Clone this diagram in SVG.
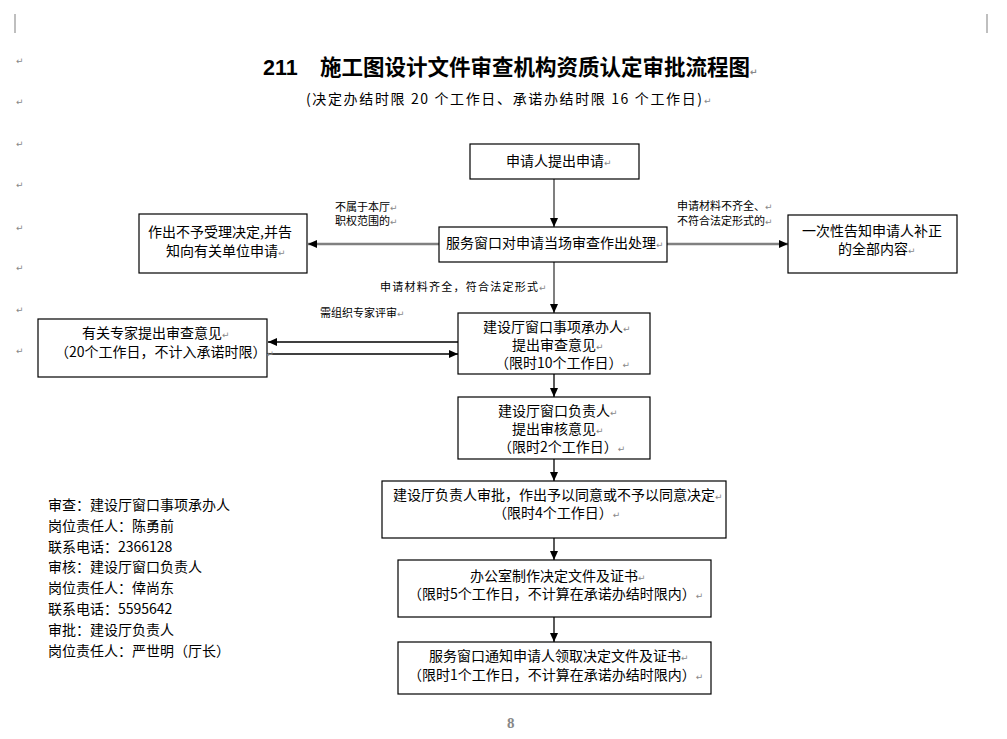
<svg xmlns="http://www.w3.org/2000/svg" width="1007" height="739" viewBox="0 0 1007 739">
<style>
.bx{fill:#fff;stroke:#000;stroke-width:1.2}
.t{font-family:"Noto Sans CJK SC","Noto Sans",sans-serif;font-size:14px;fill:#000}
.s{font-family:"Noto Sans CJK SC","Noto Sans",sans-serif;font-size:11px;fill:#000}
.m{font-family:"DejaVu Sans",sans-serif;font-size:9px;fill:#888}
.lk{stroke:#000;stroke-width:1.3;fill:none}
.lg{stroke:#808080;stroke-width:2.5;fill:none}
.ld{stroke:#555;stroke-width:1.5;fill:none}
.corner{stroke:#aaa;stroke-width:1.5}
</style>
<defs>
<marker id="ah" markerUnits="userSpaceOnUse" markerWidth="10" markerHeight="8" refX="9" refY="4" orient="auto">
<path d="M0,0 L9,4 L0,8 z" fill="#000"/>
</marker>
</defs>
<rect width="1007" height="739" fill="#fff"/>
<line class="corner" x1="15" y1="14" x2="15" y2="33"/>
<line class="corner" x1="987" y1="14" x2="987" y2="33"/>
<g id="margin-marks">
<text class="m" x="16" y="64">↵</text>
<text class="m" x="16" y="105">↵</text>
<text class="m" x="16" y="147">↵</text>
<text class="m" x="16" y="188">↵</text>
<text class="m" x="16" y="231">↵</text>
<text class="m" x="16" y="271">↵</text>
<text class="m" x="16" y="313">↵</text>
<text class="m" x="16" y="354">↵</text>
</g>
<g id="title">
<text x="263" y="75" style="font-family:'Liberation Sans','Noto Sans CJK SC',sans-serif;font-size:21.5px;font-weight:bold">211</text>
<text x="320" y="75" style="font-family:'Noto Sans CJK SC',sans-serif;font-size:21.5px;font-weight:bold">施工图设计文件审查机构资质认定审批流程图<tspan class="m">↵</tspan></text>
<text class="t" x="306" y="104" textLength="396" lengthAdjust="spacing">(决定办结时限 20 个工作日、承诺办结时限 16 个工作日)</text>
<text class="m" x="704" y="104">↵</text>
</g>
<g id="connectors">
<line class="ld" x1="554" y1="179" x2="554" y2="227" marker-end="url(#ah)"/>
<line class="lg" x1="439" y1="244" x2="308" y2="244" marker-end="url(#ah)"/>
<line class="lg" x1="667" y1="244" x2="788" y2="244" marker-end="url(#ah)"/>
<line class="ld" x1="554" y1="262" x2="554" y2="313" marker-end="url(#ah)"/>
<line class="lk" x1="458" y1="342" x2="268" y2="342" marker-end="url(#ah)"/>
<line class="lk" x1="267" y1="354" x2="458" y2="354" marker-end="url(#ah)"/>
<line class="lk" x1="554" y1="374" x2="554" y2="397" marker-end="url(#ah)"/>
<line class="lk" x1="554" y1="459" x2="554" y2="481" marker-end="url(#ah)"/>
<line class="lk" x1="554" y1="538" x2="554" y2="560" marker-end="url(#ah)"/>
<line class="lk" x1="554" y1="617" x2="554" y2="642" marker-end="url(#ah)"/>
<text class="s" x="335" y="211">不属于本厅<tspan class="m">↵</tspan></text>
<text class="s" x="335" y="225">职权范围的<tspan class="m">↵</tspan></text>
<text class="s" x="677" y="210">申请材料不齐全、<tspan class="m">↵</tspan></text>
<text class="s" x="677" y="225">不符合法定形式的<tspan class="m">↵</tspan></text>
<text class="s" x="380" y="291" textLength="158" lengthAdjust="spacing">申请材料齐全，符合法定形式</text>
<text class="m" x="539" y="291">↵</text>
<text class="s" x="320" y="317">需组织专家评审<tspan class="m">↵</tspan></text>
</g>
<g id="n1">
<rect class="bx" x="470" y="144" width="169" height="35"/>
<text class="t" x="506" y="166">申请人提出申请<tspan class="m">↵</tspan></text>
</g>
<g id="n2">
<rect class="bx" x="439" y="227" width="228" height="35"/>
<text class="t" x="446" y="248">服务窗口对申请当场审查作出处理<tspan class="m">↵</tspan></text>
</g>
<g id="n3">
<rect class="bx" x="139" y="214" width="168" height="59"/>
<text class="t" x="148" y="237">作出不予受理决定,并告</text>
<text class="t" x="166" y="256">知向有关单位申请<tspan class="m">↵</tspan></text>
</g>
<g id="n4">
<rect class="bx" x="788" y="215" width="169" height="58"/>
<text class="t" x="802" y="236">一次性告知申请人补正</text>
<text class="t" x="838" y="254">的全部内容<tspan class="m">↵</tspan></text>
</g>
<g id="n5">
<rect class="bx" x="38" y="319" width="229" height="58"/>
<text class="t" x="82" y="338">有关专家提出审查意见<tspan class="m">↵</tspan></text>
<text class="t" x="55" y="357">（20个工作日，不计入承诺时限）<tspan class="m">↵</tspan></text>
</g>
<g id="n6">
<rect class="bx" x="458" y="313" width="192" height="61"/>
<text class="t" x="483" y="332">建设厅窗口事项承办人<tspan class="m">↵</tspan></text>
<text class="t" x="512" y="350">提出审查意见<tspan class="m">↵</tspan></text>
<text class="t" x="495" y="368">（限时10个工作日）<tspan class="m">↵</tspan></text>
</g>
<g id="n7">
<rect class="bx" x="458" y="397" width="192" height="62"/>
<text class="t" x="498" y="416">建设厅窗口负责人<tspan class="m">↵</tspan></text>
<text class="t" x="512" y="434">提出审核意见<tspan class="m">↵</tspan></text>
<text class="t" x="498" y="452">（限时2个工作日）<tspan class="m">↵</tspan></text>
</g>
<g id="n8">
<rect class="bx" x="382" y="481" width="344" height="57"/>
<text class="t" x="393" y="500">建设厅负责人审批，作出予以同意或不予以同意决定<tspan class="m">↵</tspan></text>
<text class="t" x="493" y="518">（限时4个工作日）<tspan class="m">↵</tspan></text>
</g>
<g id="n9">
<rect class="bx" x="398" y="560" width="313" height="57"/>
<text class="t" x="470" y="581">办公室制作决定文件及证书<tspan class="m">↵</tspan></text>
<text class="t" x="408" y="599">（限时5个工作日，不计算在承诺办结时限内）<tspan class="m">↵</tspan></text>
</g>
<g id="n10">
<rect class="bx" x="398" y="642" width="313" height="52"/>
<text class="t" x="429" y="661">服务窗口通知申请人领取决定文件及证书<tspan class="m">↵</tspan></text>
<text class="t" x="408" y="680">（限时1个工作日，不计算在承诺办结时限内）<tspan class="m">↵</tspan></text>
</g>
<g id="contacts">
<text class="t" x="48" y="510">审查：建设厅窗口事项承办人</text>
<text class="t" x="48" y="531">岗位责任人：陈勇前</text>
<text class="t" x="48" y="552">联系电话：2366128</text>
<text class="t" x="48" y="572">审核：建设厅窗口负责人</text>
<text class="t" x="48" y="593">岗位责任人：倖尚东</text>
<text class="t" x="48" y="614">联系电话：5595642</text>
<text class="t" x="48" y="635">审批：建设厅负责人</text>
<text class="t" x="48" y="656">岗位责任人：严世明（厅长）</text>
</g>
<text x="507" y="728" style="font-family:'Liberation Serif',serif;font-size:15px;font-weight:bold;fill:#888">8</text>
</svg>
